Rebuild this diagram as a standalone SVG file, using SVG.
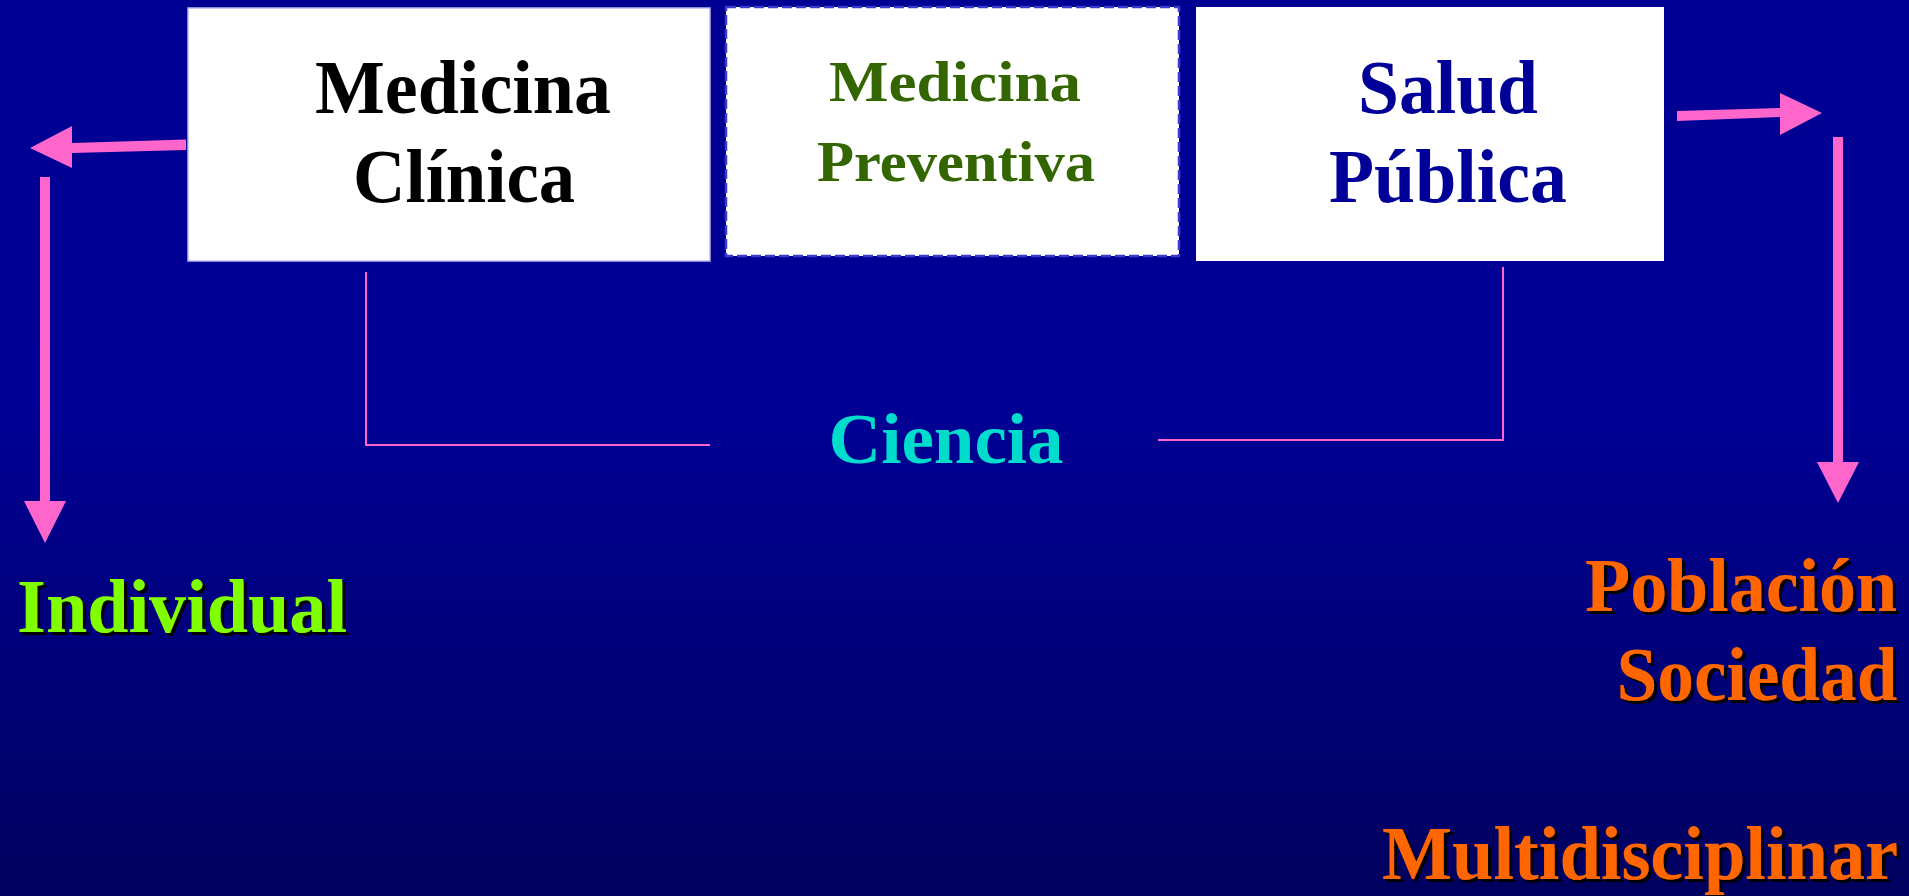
<svg xmlns="http://www.w3.org/2000/svg" width="1909" height="896" viewBox="0 0 1909 896">
<defs>
<linearGradient id="bg" x1="0" y1="0" x2="0" y2="1">
<stop offset="0" stop-color="#000092"/>
<stop offset="0.45" stop-color="#000096"/>
<stop offset="1" stop-color="#00005e"/>
</linearGradient>
<filter id="sh" x="-10%" y="-20%" width="130%" height="150%">
<feDropShadow dx="3" dy="3" stdDeviation="0" flood-color="#000000" flood-opacity="1"/>
</filter>
</defs>
<style>
.t{font-family:"Liberation Serif","Times New Roman",serif;font-weight:bold;text-anchor:middle}
.big{font-size:77px}
.mp{font-size:56px;fill:#336600}
.out{font-size:76px;filter:url(#sh)}
.pink{fill:#ff66cc}
.br{stroke:#ff66cc;stroke-width:2;fill:none}
</style>
<rect width="1909" height="896" fill="url(#bg)"/>

<g id="node-medicina-clinica">
<rect x="188" y="8" width="522" height="253" fill="#ffffff" stroke="#b8b8f0" stroke-width="1.5"/>
<text class="t big" x="463" y="113" fill="#000000" textLength="296" lengthAdjust="spacingAndGlyphs">Medicina</text>
<text class="t big" x="464" y="202" fill="#000000" textLength="222" lengthAdjust="spacingAndGlyphs">Clínica</text>
</g>

<g id="node-medicina-preventiva">
<rect x="726" y="7" width="453" height="249" fill="#ffffff" stroke="#3a3ad0" stroke-width="2.5" stroke-dasharray="10 4"/>
<text class="t mp" x="955" y="101" textLength="252" lengthAdjust="spacingAndGlyphs">Medicina</text>
<text class="t mp" x="956" y="181" textLength="278" lengthAdjust="spacingAndGlyphs">Preventiva</text>
</g>

<g id="node-salud-publica">
<rect x="1196" y="7" width="468" height="254" fill="#ffffff"/>
<text class="t big" x="1448" y="113" fill="#000099" textLength="180" lengthAdjust="spacingAndGlyphs">Salud</text>
<text class="t big" x="1448" y="202" fill="#000099" textLength="238" lengthAdjust="spacingAndGlyphs">Pública</text>
</g>

<g id="node-ciencia">
<text class="t" x="946" y="463" font-size="72" fill="#00dccc" textLength="235" lengthAdjust="spacingAndGlyphs">Ciencia</text>
</g>

<g id="node-individual">
<text class="t out" x="182" y="632" fill="#80ff00" textLength="330" lengthAdjust="spacingAndGlyphs">Individual</text>
</g>

<g id="node-poblacion">
<text class="t out" x="1741" y="611" fill="#ff6600" textLength="312" lengthAdjust="spacingAndGlyphs">Población</text>
<text class="t out" x="1757" y="700" fill="#ff6600" textLength="281" lengthAdjust="spacingAndGlyphs">Sociedad</text>
</g>

<g id="node-multidisciplinar">
<text class="t out" x="1640" y="879" fill="#ff6600" textLength="516" lengthAdjust="spacingAndGlyphs">Multidisciplinar</text>
</g>

<g id="connectors">
<!-- left arrow from Medicina Clinica -->
<polygon class="pink" points="186,139.5 186,150 72,153 72,168 30,148 72,126 72,143"/>
<rect class="pink" x="40" y="177" width="10" height="324"/>
<polygon class="pink" points="24,501 66,501 45,543"/>
<!-- right arrow from Salud Publica -->
<polygon class="pink" points="1677,111 1780,108 1780,93 1822,113 1780,135 1780,117 1677,121"/>
<rect class="pink" x="1833" y="137" width="10" height="325"/>
<polygon class="pink" points="1817,462 1859,462 1838,503"/>
<!-- science brackets -->
<polyline class="br" points="366,272 366,445 710,445"/>
<polyline class="br" points="1158,440 1503,440 1503,267"/>
</g>
</svg>
